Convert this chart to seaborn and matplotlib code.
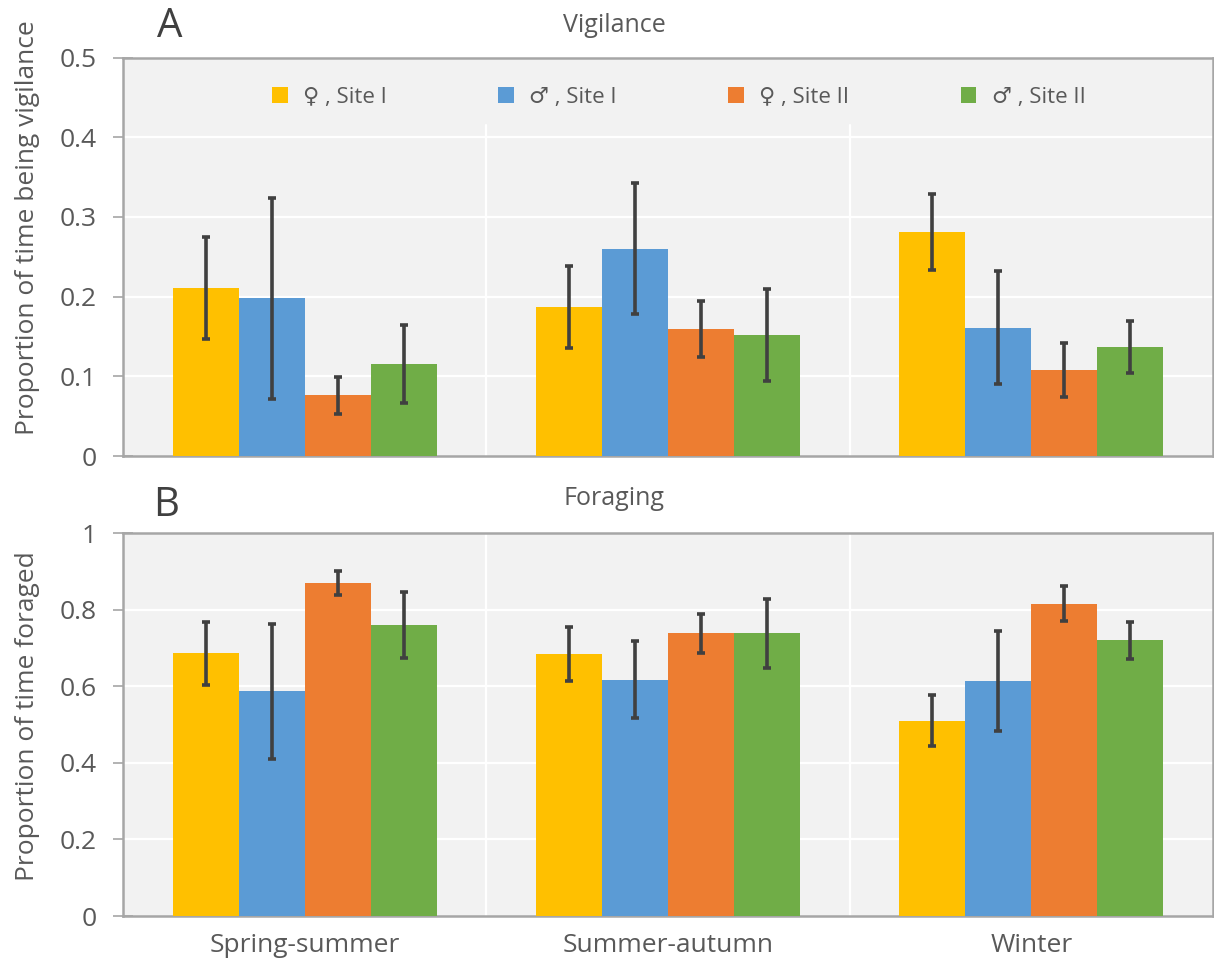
import matplotlib
matplotlib.use("Agg")
import matplotlib.pyplot as plt
import seaborn as sns
import pandas as pd
from matplotlib.patches import Patch

sns.set_theme(style="white")
plt.rcParams["font.family"] = ["Open Sans", "DejaVu Sans"]

seasons = ["Spring-summer", "Summer-autumn", "Winter"]
groups = ["♀ , Site I", "♂ , Site I", "♀ , Site II", "♂ , Site II"]
colors = ["#FFC000", "#5B9BD5", "#ED7D31", "#70AD47"]

# rows = season, cols = group
vig_mean = [[0.211, 0.198, 0.076, 0.115],
            [0.187, 0.260, 0.159, 0.152],
            [0.281, 0.161, 0.108, 0.137]]
vig_err = [[0.064, 0.126, 0.023, 0.049],
           [0.052, 0.082, 0.035, 0.058],
           [0.048, 0.071, 0.034, 0.033]]
for_mean = [[0.686, 0.587, 0.869, 0.760],
            [0.685, 0.617, 0.738, 0.738],
            [0.510, 0.614, 0.816, 0.720]]
for_err = [[0.083, 0.176, 0.031, 0.086],
           [0.071, 0.101, 0.050, 0.090],
           [0.066, 0.131, 0.045, 0.048]]

TXT = "#595959"
FRAME = "#a6a6a6"
BG = "#f2f2f2"


def to_df(mean, err):
    rows = []
    for i, s in enumerate(seasons):
        for j, g in enumerate(groups):
            rows.append({"season": s, "group": g, "value": mean[i][j], "err": err[i][j]})
    return pd.DataFrame(rows)


def draw_panel(ax, df, ymax, yticks, ylabel, ylabel_y, vline_top):
    ax.set_facecolor(BG)
    sns.barplot(data=df, x="season", y="value", hue="group", order=seasons,
                hue_order=groups, palette=colors, width=0.726, errorbar=None,
                saturation=1, linewidth=0, ax=ax, legend=False, zorder=3)
    # error bars at the centres of the drawn bars
    for j, g in enumerate(groups):
        cont = ax.containers[j]
        sub = df[df["group"] == g].set_index("season").loc[seasons]
        xs = [p.get_x() + p.get_width() / 2 for p in cont.patches]
        ax.errorbar(xs, sub["value"], yerr=sub["err"], fmt="none",
                    ecolor="#404040", elinewidth=2.6, capsize=3.2, capthick=2.6,
                    zorder=4)
    ax.set_ylim(0, ymax)
    ax.set_xlim(-0.5, 2.5)
    ax.set_yticks(yticks)
    ax.set_yticklabels([("%g" % t) for t in yticks])
    for t in yticks[1:]:
        ax.axhline(t, color="white", lw=1.6, zorder=1)
    for xv in [0.5, 1.5]:
        ax.axvline(xv, ymax=vline_top, color="white", lw=1.6, zorder=1)
    for sp in ax.spines.values():
        sp.set_visible(True)
        sp.set_color(FRAME)
        sp.set_linewidth(1.8)
    ax.tick_params(axis="y", left=True, direction="inout", length=14, width=1.2,
                   color=FRAME, labelsize=19, labelcolor=TXT, pad=12)
    ax.tick_params(axis="x", bottom=False, length=0, labelsize=19,
                   labelcolor=TXT, pad=12)
    ax.set_xlabel("")
    ax.set_ylabel(ylabel, fontsize=19, color=TXT)
    ax.yaxis.set_label_coords(-0.076, ylabel_y)


fig = plt.figure(figsize=(12.14, 9.74), dpi=100)
axA = fig.add_axes([0.1013, 0.5318, 0.8979, 0.4091])
axB = fig.add_axes([0.1013, 0.0595, 0.8979, 0.3932])

draw_panel(axA, to_df(vig_mean, vig_err), 0.5, [0, 0.1, 0.2, 0.3, 0.4, 0.5],
           "Proportion of time being vigilance", 0.572, 0.83)
axA.set_xticklabels([])
draw_panel(axB, to_df(for_mean, for_err), 1.0, [0, 0.2, 0.4, 0.6, 0.8, 1.0],
           "Proportion of time foraged", 0.522, 1.0)

handles = [Patch(facecolor=c, edgecolor="none") for c in colors]
axA.legend(handles, groups, loc="center", bbox_to_anchor=(0.51, 0.90),
           ncol=4, frameon=False, fontsize=16, labelcolor=TXT,
           handlelength=0.7, handleheight=0.7, handletextpad=0.7,
           columnspacing=5.0)

fig.text(0.140, 0.973, "A", fontsize=29, color="#404040", va="center", ha="center")
fig.text(0.506, 0.974, "Vigilance", fontsize=18, color=TXT, va="center", ha="center")
fig.text(0.137, 0.481, "B", fontsize=29, color="#404040", va="center", ha="center")
fig.text(0.506, 0.488, "Foraging", fontsize=18, color=TXT, va="center", ha="center")

fig.savefig("out.png", dpi=100, facecolor="white")
